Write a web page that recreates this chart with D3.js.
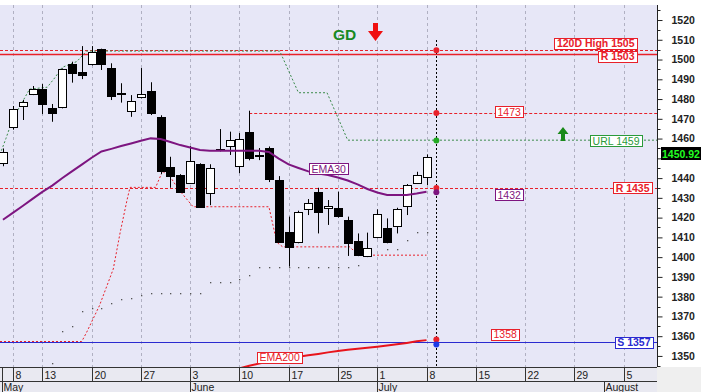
<!DOCTYPE html>
<html><head><meta charset="utf-8">
<script src="https://cdn.jsdelivr.net/npm/d3@7"></script>
<style>
body{margin:0;background:#fff;}
svg{display:block;font-family:"Liberation Sans",Arial,sans-serif;}
</style>
</head><body>
<svg id="c" width="701" height="392"></svg>
<script>
// ---------- DATA ----------
const days = ["2013-05-07","2013-05-08","2013-05-09","2013-05-10","2013-05-13","2013-05-14","2013-05-15","2013-05-16","2013-05-17",
"2013-05-20","2013-05-21","2013-05-22","2013-05-23","2013-05-24","2013-05-27","2013-05-28","2013-05-29","2013-05-30","2013-05-31",
"2013-06-03","2013-06-04","2013-06-05","2013-06-06","2013-06-07","2013-06-10","2013-06-11","2013-06-12","2013-06-13","2013-06-14",
"2013-06-17","2013-06-18","2013-06-19","2013-06-20","2013-06-21","2013-06-25","2013-06-26","2013-06-27","2013-06-28",
"2013-07-01","2013-07-02","2013-07-03","2013-07-04","2013-07-05","2013-07-08"];
const futureDays = ["2013-07-09","2013-07-10","2013-07-11","2013-07-12","2013-07-15","2013-07-16","2013-07-17","2013-07-18","2013-07-19",
"2013-07-22","2013-07-23","2013-07-24","2013-07-25","2013-07-26","2013-07-29","2013-07-30","2013-07-31","2013-08-01","2013-08-02",
"2013-08-05","2013-08-06","2013-08-07","2013-08-08","2013-08-09"];
const open  = [1447.6,1465.8,1476.5,1482.5,1485.2,1475.6,1475.8,1497.7,1493.8,1497.7,1505.2,1495.9,1483.3,1474.1,1480.9,1484.2,1470.8,1445.5,1441.6,
1437.4,1447.0,1432.3,1454.5,1456.2,1446.3,1463.2,1451.4,1455.2,1439.0,1412.9,1407.8,1424.2,1433.1,1425.0,1424.7,1418.8,1408.2,1400.6,
1410.3,1414.6,1415.7,1425.9,1437.4,1440.4];
const high  = [1455.0,1476.5,1479.5,1486.6,1487.6,1477.5,1495.5,1498.9,1506.8,1506.8,1505.5,1498.1,1488.0,1482.0,1495.7,1488.5,1471.8,1450.8,1442.0,
1456.2,1447.5,1447.0,1464.8,1463.5,1462.8,1474.1,1455.2,1456.0,1441.0,1420.5,1423.5,1429.4,1435.1,1428.9,1433.1,1420.5,1412.0,1412.4,
1424.2,1419.6,1425.0,1437.0,1443.2,1452.0];
const low   = [1446.0,1464.5,1469.4,1482.0,1472.4,1468.5,1475.3,1488.3,1490.1,1497.0,1494.7,1479.5,1478.2,1471.0,1480.3,1471.9,1442.0,1435.1,1432.6,
1437.0,1425.0,1426.3,1453.5,1451.7,1442.5,1449.0,1449.1,1438.0,1407.5,1395.2,1407.0,1421.3,1412.0,1416.3,1420.0,1400.6,1400.5,1400.0,
1409.5,1407.0,1412.0,1421.3,1437.0,1436.5];
const close = [1453.2,1475.0,1478.7,1485.2,1477.5,1473.1,1495.0,1493.3,1492.2,1504.0,1497.7,1481.5,1482.7,1478.9,1482.6,1472.8,1443.6,1441.1,1433.1,
1448.6,1425.5,1445.0,1454.0,1459.3,1459.6,1450.0,1451.9,1439.5,1407.8,1405.0,1423.0,1427.2,1423.0,1425.8,1420.8,1407.0,1401.1,1404.8,
1421.7,1407.8,1424.2,1436.5,1441.6,1450.92];
const ema30 = [1418.9,1422.4,1425.9,1429.5,1433.0,1436.2,1439.9,1443.4,1446.8,1450.3,1453.5,1454.8,1456.2,1457.5,1458.9,1460.1,1459.8,1458.3,1456.7,
1455.5,1454.2,1453.9,1453.9,1453.9,1453.9,1453.9,1453.8,1453.2,1449.9,1446.9,1445.1,1443.4,1442.3,1441.6,1440.3,1438.8,1436.8,1434.5,
1432.7,1431.4,1431.4,1431.5,1432.2,1433.1];
const ema200 = [null,null,null,null,null,null,null,null,null,null,null,null,null,null,null,null,null,null,null,
null,null,null,1341.3,1342.5,1343.7,1345.0,1346.2,1347.2,1348.1,1348.8,1349.6,1350.3,1351.0,1351.8,1352.5,1353.1,1353.6,1354.2,
1354.7,1355.3,1355.9,1356.6,1357.4,1358.0];
const stopDots = [null,null,null,null,null,1346.4,1362.6,1365.3,1372.7,1374.3,1374.3,1376.8,1378.8,1379.3,1380.8,1382.0,1382.0,1382.0,1382.0,
1382.0,1382.0,1387.3,1387.3,1387.3,1389.0,1391.0,1394.9,1394.9,1394.9,1394.9,1394.9,1394.9,1394.9,1394.9,1394.9,1394.9,1396.0,null,
null,1404.2,1404.2,1408.7,1412.9,1412.9];
// trailing lines: [day index, value]
const urlLine = [[-0.3,1452],[0.3,1460],[1,1470],[2.7,1485],[4.5,1486],[5.3,1491],[6,1496],[7.5,1499],[8.5,1504.3],[28.1,1504.3],
[30,1483.2],[32.9,1483.2],[35,1459.2],[66.4,1459.2]];
const supLine = [[-0.3,1357.3],[8,1357.3],[8.5,1362],[9.8,1375.5],[11.2,1394],[11.9,1412.5],[12.6,1429],[12.9,1435.3],[15.5,1435.3],
[16.2,1443.5],[17,1440.5],[17.8,1434.5],[19.3,1425.5],[27,1425.5],[27.8,1407.5],[28.4,1405.2],[35.2,1405.2],[36.1,1401],[43,1401]];
const levels = {high120:1505, r1:1503, r2:1473, url:1459, r3:1435, ema30Last:1432, ema200Last:1358, s1:1357, last:1450.92};
const yTicks = [1350,1360,1370,1380,1390,1400,1410,1420,1430,1440,1450,1460,1470,1480,1490,1500,1510,1520];
const tickDays = ["2013-05-08","2013-05-13","2013-05-20","2013-05-27","2013-06-03","2013-06-10","2013-06-17","2013-06-25","2013-07-01","2013-07-08","2013-07-15","2013-07-22","2013-07-29","2013-08-05"];
const tickLabels = ["8","13","20","27","3","10","17","25","1","8","15","22","29","5"];
const monthDays = ["2013-06-03","2013-07-01","2013-08-01"];
const monthLabels = ["May","June","July","August"];

// ---------- SETUP ----------
const allDays = days.concat(futureDays);
const idx = d => allDays.indexOf(d);
const svg = d3.select("#c");
const PR = 657, PT = 5, PB = 367;
const x = d3.scaleLinear().domain([-0.3, 66.4]).range([0, PR]);
const y = d3.scaleLinear().domain([1344.4, 1527.6]).range([PB, PT]);
const RED = "#e8202a", PUR = "#7d1580", GRN = "#2a9a3a", BLU = "#2a2ad0";

svg.append("rect").attr("width",701).attr("height",392).attr("fill","#fff");
svg.append("rect").attr("x",0).attr("y",PT).attr("width",PR).attr("height",PB-PT).attr("fill","#e7e7f7");
svg.append("rect").attr("x",0).attr("y",PB).attr("width",PR).attr("height",392-PB).attr("fill","#e9e9f1");
svg.append("rect").attr("x",PR).attr("y",PB).attr("width",701-PR).attr("height",392-PB).attr("fill","#efefef");

svg.append("clipPath").attr("id","pc").append("rect").attr("x",0).attr("y",PT).attr("width",PR).attr("height",PB-PT);
const plot = svg.append("g").attr("clip-path","url(#pc)");
const px = v => Math.round(x(v)) + 0.5;

// vertical gridlines
plot.selectAll(".grid").data(tickDays).join("line")
  .attr("x1",d=>px(idx(d))).attr("x2",d=>px(idx(d))).attr("y1",PT).attr("y2",PB)
  .attr("stroke","#b0b0c2").attr("stroke-dasharray","3,3");

// horizontal level lines
const hline = (v, x0, color, dash, w) => plot.append("line")
  .attr("x1",x0).attr("x2",PR).attr("y1",Math.round(y(v))+0.5).attr("y2",Math.round(y(v))+0.5)
  .attr("stroke",color).attr("stroke-width",w||1).attr("stroke-dasharray",dash||null);
hline(levels.high120, 0, RED, "3,2");
hline(levels.r1, 0, RED, null, 1.5);
hline(levels.r2, x(25), RED, "3,2");
hline(levels.r3, 0, RED, "3,2");
hline(levels.s1, 0, BLU, null, 1);

// trailing lines
const lineXY = d3.line().x(d=>x(d[0])).y(d=>y(d[1]));
plot.append("path").attr("d",lineXY(urlLine)).attr("fill","none").attr("stroke","#3a8a4a").attr("stroke-dasharray","2,2");
plot.append("path").attr("d",lineXY(supLine)).attr("fill","none").attr("stroke",RED).attr("stroke-dasharray","2,2");

// gray stop dots
plot.selectAll(".sd").data(stopDots.map((v,i)=>[i,v]).filter(d=>d[1]!=null)).join("rect")
  .attr("x",d=>Math.round(x(d[0]))).attr("y",d=>Math.round(y(d[1]))).attr("width",1.3).attr("height",1.3).attr("fill","#555");

// candles
const cd = days.map((d,i)=>({i,o:open[i],h:high[i],l:low[i],c:close[i]}));
const cg = plot.append("g");
cg.selectAll(".wick").data(cd).join("line")
  .attr("x1",d=>px(d.i)).attr("x2",d=>px(d.i)).attr("y1",d=>y(d.h)).attr("y2",d=>y(d.l)).attr("stroke","#000");
cg.selectAll(".body").data(cd).join("rect")
  .attr("x",d=>Math.round(x(d.i))-3.5).attr("width",8)
  .attr("y",d=>Math.round(y(Math.max(d.o,d.c)))+0.5)
  .attr("height",d=>Math.max(1,Math.round(y(Math.min(d.o,d.c)))-Math.round(y(Math.max(d.o,d.c)))))
  .attr("fill",d=>d.c>=d.o?"#fff":"#000").attr("stroke","#000");

// EMA lines
const emaLine = d3.line().defined(d=>d[1]!=null).x(d=>x(d[0])).y(d=>y(d[1]));
plot.append("path").attr("d",emaLine(ema30.map((v,i)=>[i,v]))).attr("fill","none").attr("stroke",PUR).attr("stroke-width",2);
plot.append("path").attr("d",emaLine(ema200.map((v,i)=>[i,v]))).attr("fill","none").attr("stroke","#e8141c").attr("stroke-width",2);

// today line and dots
const today = idx(futureDays[0]);
plot.append("line").attr("x1",px(today)).attr("x2",px(today)).attr("y1",40).attr("y2",PB)
  .attr("stroke","#000").attr("stroke-dasharray","2,2");
const dotData = [[levels.high120-0.3,RED],[levels.r2,RED],[levels.url,"#22aa22"],[levels.r3,RED],[ema30[43]-0.3,PUR],[ema200[43]+0.3,RED],[levels.s1-1.2,"#1a3ae8"]];
plot.selectAll(".dt").data(dotData).join("circle").attr("cx",x(today)).attr("cy",d=>y(d[0])).attr("r",3).attr("fill",d=>d[1]);

// labels
function tag(text, xpos, anchor, yc, color, bold){
  const g = svg.append("g");
  const t = g.append("text").text(text).attr("font-size",10.5).attr("font-weight",bold?"bold":"normal")
    .attr("fill",color).attr("dy","0.36em");
  const w = t.node().getComputedTextLength();
  const bw = w + 5, bh = 11;
  const x0 = anchor==="end" ? xpos - bw : xpos;
  g.insert("rect","text").attr("x",Math.round(x0)+0.5).attr("y",Math.round(yc-bh/2)+0.5).attr("width",Math.round(bw)).attr("height",bh)
    .attr("fill","#fff").attr("stroke",color);
  t.attr("x",x0+2.5).attr("y",yc+0.5);
}
tag("120D High "+levels.high120, 637, "end", y(levels.high120)-6.5, RED, true);
tag("R "+levels.r1, 637, "end", y(levels.r1)+2.5, RED, true);
tag(String(levels.r2), 495, "start", y(levels.r2)-1.5, RED, false);
tag("URL "+levels.url, 642, "end", y(levels.url), GRN, false);
tag("R "+levels.r3, 652, "end", y(levels.r3), RED, true);
tag(String(levels.ema30Last), 495, "start", y(levels.ema30Last)+1, PUR, false);
tag(String(levels.ema200Last), 491, "start", y(levels.ema200Last)-6, RED, false);
tag("S "+levels.s1, 653, "end", y(levels.s1), BLU, true);
tag("EMA30", 309, "start", 168.5, PUR, false);
tag("EMA200", 257, "start", 357, RED, false);

// GD + arrows
svg.append("text").text("GD").attr("x",333).attr("y",40).attr("font-size",15.5).attr("font-weight","bold").attr("fill","#188a24");
svg.append("path").attr("d","M373,23 H378 V31 H383 L375.5,41 L368,31 H373 Z").attr("fill","#f01010");
svg.append("path").attr("d","M561,141 H565 V134 H568.5 L563,127 L557.5,134 H561 Z").attr("fill","#1a8a1a");

// right axis (the 1450 label sits under the last-price tag)
const ay = svg.append("g").attr("transform",`translate(${PR+0.5},0)`)
  .call(d3.axisRight(y).tickValues(yTicks).tickSize(5).tickPadding(9).tickFormat(d=>d===1450?"":d3.format("d")(d)));
ay.select(".domain").attr("d",`M0,${PT}V${PB}`).attr("stroke","#222");
ay.selectAll("text").attr("font-size",10.5).attr("font-weight","bold").attr("fill","#222").attr("font-family","Liberation Sans, Arial");
ay.selectAll("line").attr("stroke","#222");
svg.append("g").attr("transform",`translate(${PR+0.5},0)`).selectAll("line")
  .data(d3.range(1345,1526,5).filter(v=>v%10!==0)).join("line")
  .attr("x1",0).attr("x2",3).attr("y1",d=>Math.round(y(d))+0.5).attr("y2",d=>Math.round(y(d))+0.5).attr("stroke","#222");

// last price tag
svg.append("rect").attr("x",661).attr("y",147).attr("width",42).attr("height",13).attr("fill","#000");
svg.append("text").text(levels.last.toFixed(2)).attr("x",662).attr("y",157.5).attr("font-size",10.5).attr("font-weight","bold").attr("fill","#22ff22");

// bottom date axis
const ax = svg.append("g").attr("transform",`translate(0,${PB+0.5})`)
  .call(d3.axisBottom(x).tickValues(tickDays.map(idx)).tickSize(14).tickFormat((d,i)=>tickLabels[i]));
ax.select(".domain").attr("d",`M0,0H${PR}`).attr("stroke","#333");
ax.selectAll(".tick line").attr("stroke","#333").attr("transform","translate(0.5,0)");
ax.selectAll("text").attr("text-anchor","start").attr("x",2.5).attr("y",4).attr("dy","0.71em")
  .attr("font-size",10.5).attr("fill","#222").attr("font-family","Liberation Sans, Arial");
ax.selectAll(".tick").attr("transform",d=>`translate(${Math.round(x(d))},0)`);

const am = svg.append("g").attr("transform",`translate(0,${PB+14.5})`)
  .call(d3.axisBottom(x).tickValues([-0.3].concat(monthDays.map(idx))).tickSize(11).tickFormat((d,i)=>monthLabels[i]));
am.select(".domain").attr("d",`M0,0H${PR}`).attr("stroke","#333");
am.selectAll(".tick line").attr("stroke","#333").attr("transform","translate(0.5,0)");
am.selectAll(".tick").attr("transform",(d,i)=>`translate(${i===0?2:Math.round(x(d))},0)`);
am.selectAll("text").attr("text-anchor","start").attr("x",1.5).attr("y",2).attr("dy","0.71em")
  .attr("font-size",10.5).attr("fill","#222").attr("font-family","Liberation Sans, Arial");
svg.append("line").attr("x1",2.5).attr("x2",2.5).attr("y1",PB).attr("y2",PB+14).attr("stroke","#333");
</script>
</body></html>
